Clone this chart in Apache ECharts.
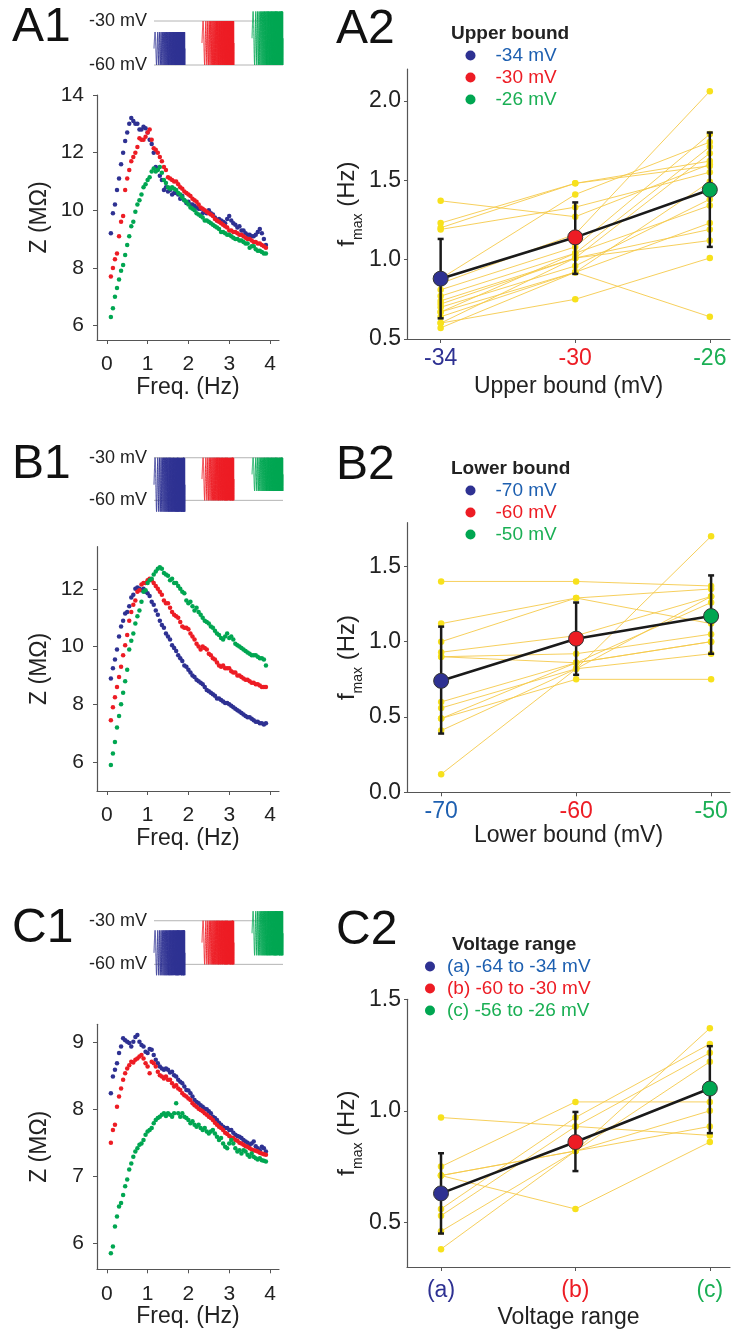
<!DOCTYPE html>
<html>
<head>
<meta charset="utf-8">
<script src="https://cdn.jsdelivr.net/npm/echarts@6/dist/echarts.min.js"></script>
<style>
html, body { margin: 0; padding: 0; background: #fff; }
#fig { width: 732px; height: 1330px; }
</style>
</head>
<body>
<div id="fig"></div>
<script>
// ---- data ----
var freq = [0.1, 0.15, 0.2, 0.25, 0.3, 0.35, 0.4, 0.45, 0.5, 0.55,
    0.6, 0.65, 0.7, 0.75, 0.8, 0.85, 0.9, 0.95, 1.0, 1.05,
    1.1, 1.15, 1.2, 1.25, 1.3, 1.35, 1.4, 1.45, 1.5, 1.55,
    1.6, 1.65, 1.7, 1.75, 1.8, 1.85, 1.9, 1.95, 2.0, 2.05,
    2.1, 2.15, 2.2, 2.25, 2.3, 2.35, 2.4, 2.45, 2.5, 2.55,
    2.6, 2.65, 2.7, 2.75, 2.8, 2.85, 2.9, 2.95, 3.0, 3.05,
    3.1, 3.15, 3.2, 3.25, 3.3, 3.35, 3.4, 3.45, 3.5, 3.55,
    3.6, 3.65, 3.7, 3.75, 3.8, 3.85, 3.9];

// A1: impedance, upper bound -34 / -30 / -26 mV
var zA1Blue = [9.2, 9.9, 10.2, 10.7, 11.1, 11.6, 12.0, 12.4, 12.7, 13.0,
    13.2, 13.1, 13.0, 13.0, 12.8, 12.8, 12.9, 12.85, 12.7, 12.45,
    12.3, 12.0, 11.5, 11.45, 11.2, 11.05, 10.7, 10.8, 10.65, 10.7,
    10.55, 10.6, 10.6, 10.55, 10.4, 10.5, 10.35, 10.25, 10.3, 10.2,
    10.2, 10.15, 10.1, 10.05, 10.05, 9.9, 9.95, 9.9, 10.0, 9.9,
    9.85, 9.75, 9.65, 9.7, 9.65, 9.6, 9.55, 9.7, 9.8, 9.65,
    9.55, 9.5, 9.4, 9.45, 9.3, 9.3, 9.2, 9.15, 9.15, 9.1,
    9.1, 9.15, 9.25, 9.35, 9.2, 9.0, 8.8];
var zA1Red = [7.7, 8.0, 8.3, 8.5, 9.1, 9.6, 9.8, 10.7, 11.1, 11.4,
    11.7, 11.85, 12.0, 12.2, 12.5, 12.45, 12.45, 12.55, 12.7, 12.8,
    12.45, 12.15, 12.1, 12.0, 11.85, 11.7, 11.5, 11.4, 11.15, 11.1,
    11.05, 11.0, 11.0, 10.9, 10.8, 10.75, 10.65, 10.6, 10.55, 10.5,
    10.4, 10.35, 10.3, 10.2, 10.1, 10.05, 10.0, 9.95, 9.9, 9.85,
    9.8, 9.7, 9.65, 9.6, 9.55, 9.5, 9.45, 9.4, 9.3, 9.3,
    9.25, 9.25, 9.2, 9.15, 9.15, 9.1, 9.05, 9.0, 9.0, 8.95,
    8.9, 8.9, 8.85, 8.85, 8.8, 8.75, 8.7];
var zA1Green = [6.3, 6.6, 7.0, 7.3, 7.6, 7.9, 8.1, 8.45, 8.8, 9.1,
    9.45, 9.6, 9.95, 10.2, 10.35, 10.55, 10.8, 10.9, 11.05, 11.15,
    11.35, 11.45, 11.35, 11.4, 11.5, 11.3, 11.05, 10.95, 10.8, 10.75,
    10.8, 10.75, 10.7, 10.6, 10.55, 10.45, 10.35, 10.3, 10.2, 10.1,
    10.05, 10.0, 9.9, 9.85, 9.8, 9.75, 9.65, 9.65, 9.6, 9.55,
    9.5, 9.45, 9.4, 9.35, 9.25, 9.25, 9.2, 9.15, 9.15, 9.1,
    9.05, 9.0, 9.0, 8.95, 8.95, 8.9, 8.85, 8.85, 8.7, 8.75,
    8.75, 8.65, 8.6, 8.6, 8.55, 8.5, 8.5];

// B1: lower bound -70 / -60 / -50 mV
var zB1Blue = [8.9, 9.25, 9.55, 9.9, 10.35, 10.7, 10.9, 11.15, 11.2, 11.4,
    11.7, 11.8, 12.0, 12.05, 12.0, 11.95, 12.0, 11.9, 11.85, 11.75,
    11.55, 11.45, 11.25, 11.1, 10.9, 10.75, 10.65, 10.45, 10.35, 10.25,
    10.05, 9.95, 9.85, 9.7, 9.6, 9.5, 9.35, 9.3, 9.2, 9.1,
    9.0, 8.95, 8.85, 8.8, 8.75, 8.7, 8.6, 8.5, 8.45, 8.4,
    8.35, 8.3, 8.2, 8.2, 8.15, 8.1, 8.05, 8.05, 8.0, 7.95,
    7.9, 7.85, 7.8, 7.75, 7.7, 7.65, 7.6, 7.55, 7.55, 7.5,
    7.45, 7.4, 7.4, 7.35, 7.35, 7.3, 7.35];
var zB1Red = [7.45, 7.9, 8.25, 8.6, 8.95, 9.3, 9.7, 10.05, 10.4, 10.9,
    11.2, 11.45, 11.6, 11.9, 11.95, 12.15, 12.2, 12.2, 12.3, 12.35,
    12.3, 12.2, 12.1, 12.0, 11.9, 11.8, 11.6, 11.5, 11.5, 11.35,
    11.2, 11.1, 11.05, 11.0, 10.85, 10.7, 10.65, 10.65, 10.6, 10.45,
    10.35, 10.25, 10.1, 10.0, 9.9, 10.0, 9.95, 9.9, 9.75, 9.7,
    9.6, 9.55, 9.45, 9.35, 9.3, 9.35, 9.25, 9.25, 9.25, 9.15,
    9.1, 9.1, 9.0, 9.0, 8.95, 8.9, 8.85, 8.85, 8.8, 8.75,
    8.75, 8.7, 8.7, 8.65, 8.6, 8.6, 8.6];
var zB1Green = [5.9, 6.3, 6.7, 7.2, 7.6, 8.0, 8.4, 8.8, 9.2, 9.9,
    10.2, 10.45, 10.8, 11.05, 11.25, 11.55, 11.9, 11.95, 12.2, 12.3,
    12.35, 12.5, 12.6, 12.7, 12.75, 12.7, 12.55, 12.5, 12.45, 12.3,
    12.35, 12.2, 12.2, 12.1, 12.0, 11.9, 11.85, 11.6, 11.5, 11.55,
    11.4, 11.25, 11.35, 11.2, 11.1, 11.0, 10.9, 10.85, 10.8, 10.7,
    10.65, 10.55, 10.45, 10.4, 10.3, 10.25, 10.35, 10.45, 10.3, 10.35,
    10.25, 10.1, 10.05, 10.0, 9.95, 9.9, 9.85, 9.8, 9.75, 9.7,
    9.7, 9.7, 9.65, 9.6, 9.6, 9.55, 9.35];

// C1: voltage range (a) / (b) / (c)
var zC1Blue = [8.24, 8.49, 8.59, 8.69, 8.84, 8.94, 9.06, 9.03, 9.01, 8.99,
    8.94, 9.01, 9.08, 9.11, 9.01, 8.96, 8.94, 8.86, 8.84, 8.9,
    8.89, 8.81, 8.74, 8.69, 8.64, 8.61, 8.59, 8.61, 8.59, 8.55,
    8.56, 8.51, 8.49, 8.44, 8.41, 8.39, 8.34, 8.29, 8.28, 8.24,
    8.19, 8.14, 8.11, 8.09, 8.06, 8.04, 8.01, 8.0, 7.97, 7.94,
    7.89, 7.87, 7.84, 7.8, 7.77, 7.74, 7.72, 7.72, 7.69, 7.69,
    7.65, 7.62, 7.6, 7.59, 7.57, 7.54, 7.52, 7.5, 7.47, 7.49,
    7.52, 7.45, 7.42, 7.39, 7.44, 7.42, 7.37];
var zC1Red = [7.5, 7.69, 7.77, 8.04, 8.19, 8.31, 8.44, 8.54, 8.61, 8.66,
    8.71, 8.7, 8.74, 8.76, 8.79, 8.81, 8.76, 8.69, 8.64, 8.54,
    8.71, 8.69, 8.64, 8.56, 8.51, 8.49, 8.46, 8.49, 8.44, 8.44,
    8.39, 8.34, 8.36, 8.31, 8.29, 8.24, 8.21, 8.19, 8.16, 8.14,
    8.09, 8.06, 8.04, 8.01, 7.99, 7.97, 7.94, 7.92, 7.89, 7.87,
    7.84, 7.8, 7.77, 7.74, 7.72, 7.69, 7.65, 7.63, 7.6, 7.58,
    7.57, 7.54, 7.53, 7.5, 7.49, 7.47, 7.45, 7.44, 7.42, 7.4,
    7.39, 7.38, 7.37, 7.35, 7.34, 7.33, 7.32];
var zC1Green = [5.85, 5.95, 6.25, 6.4, 6.55, 6.6, 6.72, 6.85, 6.95, 7.1,
    7.19, 7.29, 7.37, 7.42, 7.47, 7.49, 7.54, 7.62, 7.67, 7.69,
    7.72, 7.79, 7.84, 7.87, 7.89, 7.92, 7.94, 7.9, 7.94, 7.92,
    7.89, 7.94, 8.09, 7.94, 7.89, 7.94, 7.89, 7.87, 7.84, 7.79,
    7.82, 7.77, 7.74, 7.77, 7.72, 7.69, 7.72, 7.67, 7.64, 7.67,
    7.69, 7.64, 7.59, 7.54, 7.57, 7.49, 7.44, 7.42, 7.49, 7.54,
    7.49, 7.42, 7.37, 7.39, 7.34, 7.39, 7.37, 7.32, 7.29, 7.34,
    7.29, 7.27, 7.25, 7.27, 7.24, 7.23, 7.22];

// stimulus envelopes [t0, t1, low mV, high mV]
var stimA1 = [[0, 0.24, -60, -37.5], [0.372, 0.62, -60, -30], [0.76, 1.0, -60, -23.5]];
var stimB1 = [[0, 0.24, -68, -30], [0.372, 0.62, -60, -30], [0.76, 1.0, -53.4, -30]];
var stimC1 = [[0, 0.24, -67.5, -36.6], [0.372, 0.62, -60, -30], [0.76, 1.0, -53.8, -23.4]];
var refLevels = [-30, -60];

// A2: f_max per cell at upper bound -34 / -30 / -26 mV
var xA2 = [-34, -30, -26];
var cellsA2 = [[1.37, 1.27, 1.60], [1.23, 1.48, 1.59], [1.20, 1.48, 1.62], [1.19, 1.33, 1.55],
    [0.88, 1.41, 1.74], [0.85, 1.16, 2.06], [0.81, 1.08, 1.79], [0.77, 1.04, 1.71],
    [0.74, 1.01, 1.67], [0.70, 0.96, 1.38], [0.67, 1.04, 1.34], [0.64, 0.92, 1.23],
    [0.60, 1.01, 1.19], [0.57, 0.92, 0.64], [0.60, 0.75, 1.01], [0.72, 1.01, 1.12],
    [0.67, 0.92, 1.49]];
var meanA2 = [0.88, 1.14, 1.44];
var loA2 = [0.63, 0.91, 1.08];
var hiA2 = [1.13, 1.36, 1.80];

// B2: lower bound -70 / -60 / -50 mV
var xB2 = [-70, -60, -50];
var cellsB2 = [[1.40, 1.40, 1.37], [1.12, 1.29, 1.35], [1.00, 1.29, 1.12], [0.93, 1.04, 1.30],
    [0.90, 0.92, 1.05], [0.90, 0.86, 1.00], [0.60, 0.86, 1.26], [0.56, 0.82, 1.30],
    [0.49, 0.86, 1.00], [0.41, 0.82, 0.92], [0.49, 0.75, 0.75], [0.12, 0.82, 1.70]];
var meanB2 = [0.74, 1.02, 1.17];
var loB2 = [0.39, 0.78, 0.92];
var hiB2 = [1.10, 1.26, 1.44];

// C2: voltage range (a) / (b) / (c)
var xC2 = [0, 1, 2];
var cellsC2 = [[0.97, 0.93, 0.89], [0.75, 1.04, 1.04], [0.71, 0.56, 0.86], [0.71, 0.82, 0.93],
    [0.56, 0.97, 1.30], [0.53, 0.93, 1.26], [0.46, 0.82, 1.22], [0.38, 0.82, 1.37],
    [0.71, 0.82, 1.00]];
var meanC2 = [0.63, 0.86, 1.10];
var loC2 = [0.45, 0.73, 0.90];
var hiC2 = [0.81, 0.995, 1.29];

var tickA2 = ['-34', '-30', '-26'];
var tickB2 = ['-70', '-60', '-50'];
var tickC2 = ['(a)', '(b)', '(c)'];
var legA2 = ['-34 mV', '-30 mV', '-26 mV'];
var legB2 = ['-70 mV', '-60 mV', '-50 mV'];
var legC2 = ['(a) -64 to -34 mV', '(b) -60 to -30 mV', '(c) -56 to -26 mV'];

// ---- styling ----
var FONT = '"Liberation Sans", Arial, Helvetica, sans-serif';
var dotCols = ['#2e3192', '#ed1c24', '#00a651'];
var textCols = ['#1d5fb0', '#ed1c24', '#1aaf54'];
var tickColsA = ['#2e3192', '#ed1c24', '#1aaf54'];
var tickColsB = ['#1d5fb0', '#ed1c24', '#1aaf54'];
var axisCol = '#555';
var yellowDot = '#f7e11c';
var yellowLine = '#f5c94a';

var myChart = echarts.init(document.getElementById('fig'), null, { renderer: 'canvas' });

var grids = [
    { left: 154, top: 3.4, width: 129, height: 79.2 },      // 0 stim A1
    { left: 154, top: 440.7, width: 129, height: 76.7 },    // 1 stim B1
    { left: 154, top: 903.3, width: 129, height: 78.5 },    // 2 stim C1
    { left: 97, top: 95, width: 182, height: 245 },         // 3 Z A1
    { left: 97, top: 546.7, width: 182, height: 244.3 },    // 4 Z B1
    { left: 97, top: 1024.3, width: 182, height: 245 },     // 5 Z C1
    { left: 407, top: 69, width: 323, height: 270 },        // 6 A2
    { left: 407, top: 522.7, width: 323, height: 269.6 },   // 7 B2
    { left: 407, top: 999.3, width: 323, height: 269 }      // 8 C2
];

var xAxes = [], yAxes = [], series = [];

// stimulus panels
[stimA1, stimB1, stimC1].forEach(function (stim, g) {
    xAxes.push({ gridIndex: g, type: 'value', min: 0, max: 1, show: false });
    yAxes.push({
        gridIndex: g, type: 'value', min: -72, max: -18,
        axisLine: { show: false }, axisTick: { show: false }, splitLine: { show: false },
        axisLabel: {
            customValues: refLevels, margin: 7, fontSize: 18, color: '#222', fontFamily: FONT,
            formatter: function (v) { return v + ' mV'; }
        }
    });
    refLevels.forEach(function (lv) {
        series.push({
            type: 'line', xAxisIndex: g, yAxisIndex: g, silent: true, symbol: 'none', z: 1,
            lineStyle: { color: '#b4b4b4', width: 1 },
            data: [[0, lv], [1, lv]]
        });
    });
    series.push({
        type: 'custom', xAxisIndex: g, yAxisIndex: g, silent: true, z: 2,
        data: stim.map(function (s, i) { return { value: s, itemStyle: { color: dotCols[i] } }; }),
        renderItem: function (params, api) {
            var t0 = api.value(0), t1 = api.value(1), lo = api.value(2), hi = api.value(3);
            var pts = [];
            var n = 1200;
            for (var k = 0; k <= n; k++) {
                var u = k / n;
                var ph = 2 * Math.PI * (6 * u + 36 * u * u);
                var v = (lo + hi) / 2 + (hi - lo) / 2 * Math.sin(ph);
                pts.push(api.coord([t0 + (t1 - t0) * u, v]));
            }
            return {
                type: 'polyline', shape: { points: pts },
                style: { stroke: api.visual('color'), lineWidth: 0.9, fill: null }
            };
        }
    });
});

// impedance panels
var zSets = [[zA1Blue, zA1Red, zA1Green], [zB1Blue, zB1Red, zB1Green], [zC1Blue, zC1Red, zC1Green]];
var zY = [
    { min: 5.5, max: 14, ticks: [6, 8, 10, 12, 14] },
    { min: 5.0, max: 13.46, ticks: [6, 8, 10, 12] },
    { min: 5.61, max: 9.27, ticks: [6, 7, 8, 9] }
];
zSets.forEach(function (set, j) {
    var g = 3 + j;
    xAxes.push({
        gridIndex: g, type: 'value', min: -0.24, max: 4.22,
        name: 'Freq. (Hz)', nameLocation: 'middle', nameGap: 35,
        nameTextStyle: { fontSize: 23, color: '#222', fontFamily: FONT },
        axisLine: { onZero: false, lineStyle: { color: axisCol, width: 1.2 } },
        axisTick: { customValues: [0, 1, 2, 3, 4], length: 4, lineStyle: { color: axisCol } },
        axisLabel: { customValues: [0, 1, 2, 3, 4], margin: 14, fontSize: 21, color: '#222', fontFamily: FONT },
        splitLine: { show: false }
    });
    yAxes.push({
        gridIndex: g, type: 'value', min: zY[j].min, max: zY[j].max,
        name: 'Z (M\u03A9)', nameLocation: 'middle', nameGap: 46,
        nameTextStyle: { fontSize: 23, color: '#222', fontFamily: FONT },
        axisLine: { show: true, onZero: false, lineStyle: { color: axisCol, width: 1.2 } },
        axisTick: { show: true, customValues: zY[j].ticks, length: 4, lineStyle: { color: axisCol } },
        axisLabel: { customValues: zY[j].ticks, margin: 13, fontSize: 21, color: '#222', fontFamily: FONT },
        splitLine: { show: false }
    });
    set.forEach(function (vals, c) {
        series.push({
            type: 'scatter', xAxisIndex: g, yAxisIndex: g, silent: true,
            symbol: 'circle', symbolSize: 4.5, z: 3,
            itemStyle: { color: dotCols[c], opacity: 1 },
            data: freq.map(function (f, i) { return [f, vals[i]]; })
        });
    });
});

// paired f_max panels
var pairs = [
    { xs: xA2, cells: cellsA2, mean: meanA2, lo: loA2, hi: hiA2, ticks: tickA2, leg: legA2, tc: tickColsA,
      xmin: -35, xmax: -25.4, ymin: 0.5, ymax: 2.2, yt: [0.5, 1.0, 1.5, 2.0], xname: 'Upper bound (mV)', gap: 36, lm: 8 },
    { xs: xB2, cells: cellsB2, mean: meanB2, lo: loB2, hi: hiB2, ticks: tickB2, leg: legB2, tc: tickColsB,
      xmin: -72.53, xmax: -48.6, ymin: 0, ymax: 1.79, yt: [0, 0.5, 1.0, 1.5], xname: 'Lower bound (mV)', gap: 31, lm: 8 },
    { xs: xC2, cells: cellsC2, mean: meanC2, lo: loC2, hi: hiC2, ticks: tickC2, leg: legC2, tc: tickColsA,
      xmin: -0.253, xmax: 2.15, ymin: 0.3, ymax: 1.5, yt: [0.5, 1.0, 1.5], xname: 'Voltage range', gap: 39, lm: 12 }
];
pairs.forEach(function (p, j) {
    var g = 6 + j;
    var rich = {};
    p.tc.forEach(function (c, i) { rich['c' + i] = { color: c, fontSize: 23, fontFamily: FONT }; });
    xAxes.push({
        gridIndex: g, type: 'value', min: p.xmin, max: p.xmax,
        name: p.xname, nameLocation: 'middle', nameGap: p.gap,
        nameTextStyle: { fontSize: 23, color: '#222', fontFamily: FONT },
        axisLine: { onZero: false, lineStyle: { color: axisCol, width: 1.2 } },
        axisTick: { customValues: p.xs, length: 4, lineStyle: { color: axisCol } },
        axisLabel: {
            customValues: p.xs, margin: p.lm, rich: rich,
            formatter: function (v) {
                for (var i = 0; i < p.xs.length; i++) {
                    if (Math.abs(p.xs[i] - v) < 1e-6) return '{c' + i + '|' + p.ticks[i] + '}';
                }
                return '';
            }
        },
        splitLine: { show: false }
    });
    yAxes.push({
        gridIndex: g, type: 'value', min: p.ymin, max: p.ymax,
        name: '{f|f}{s|max}{h| (Hz)}', nameLocation: 'middle', nameGap: 40,
        nameTextStyle: {
            color: '#222', fontFamily: FONT,
            rich: {
                f: { fontSize: 24, lineHeight: 36, verticalAlign: 'middle', fontFamily: FONT, color: '#222' },
                s: { fontSize: 14, lineHeight: 36, verticalAlign: 'bottom', fontFamily: FONT, color: '#222' },
                h: { fontSize: 24, lineHeight: 36, verticalAlign: 'middle', fontFamily: FONT, color: '#222' }
            }
        },
        axisLine: { show: true, onZero: false, lineStyle: { color: axisCol, width: 1.2 } },
        axisTick: { show: true, customValues: p.yt, length: 3, lineStyle: { color: axisCol } },
        axisLabel: {
            customValues: p.yt, margin: 6, fontSize: 23, color: '#222', fontFamily: FONT,
            formatter: function (v) { return v.toFixed(1); }
        },
        splitLine: { show: false }
    });
    // individual cells
    p.cells.forEach(function (cell) {
        series.push({
            type: 'line', xAxisIndex: g, yAxisIndex: g, silent: true, z: 2,
            symbol: 'circle', symbolSize: 6.5,
            itemStyle: { color: yellowDot, opacity: 1 },
            lineStyle: { color: yellowLine, width: 0.9 },
            data: cell.map(function (v, i) { return [p.xs[i], v]; })
        });
    });
    // error bars
    series.push({
        type: 'custom', xAxisIndex: g, yAxisIndex: g, silent: true, z: 4,
        data: p.xs.map(function (x, i) { return [x, p.lo[i], p.hi[i]]; }),
        renderItem: function (params, api) {
            var a = api.coord([api.value(0), api.value(1)]);
            var b = api.coord([api.value(0), api.value(2)]);
            var w = 3;
            var st = { stroke: '#1a1a1a', lineWidth: 2.5 };
            return {
                type: 'group', children: [
                    { type: 'line', shape: { x1: a[0], y1: a[1], x2: b[0], y2: b[1] }, style: st },
                    { type: 'line', shape: { x1: a[0] - w, y1: a[1], x2: a[0] + w, y2: a[1] }, style: st },
                    { type: 'line', shape: { x1: b[0] - w, y1: b[1], x2: b[0] + w, y2: b[1] }, style: st }
                ]
            };
        }
    });
    // mean line
    series.push({
        type: 'line', xAxisIndex: g, yAxisIndex: g, silent: true, z: 5,
        symbol: 'none', lineStyle: { color: '#1a1a1a', width: 2.6 },
        data: p.xs.map(function (x, i) { return [x, p.mean[i]]; })
    });
    // mean markers (legend entries)
    p.xs.forEach(function (x, i) {
        series.push({
            type: 'scatter', name: p.leg[i], xAxisIndex: g, yAxisIndex: g, silent: true, z: 6,
            symbol: 'circle', symbolSize: 15,
            itemStyle: { color: dotCols[i], borderColor: '#333', borderWidth: 1, opacity: 1 },
            data: [[x, p.mean[i]]]
        });
    });
});

function legendFor(names, left, top, itemWidth, gap) {
    return {
        orient: 'vertical', left: left, top: top, icon: 'circle', selectedMode: false,
        itemWidth: itemWidth, itemHeight: 10, itemGap: gap,
        itemStyle: { borderWidth: 0, opacity: 1 },
        textStyle: { fontSize: 19, fontFamily: FONT },
        data: names.map(function (n, i) { return { name: n, textStyle: { color: textCols[i] } }; })
    };
}

function panelTitle(txt, left, top) {
    return { text: txt, left: left, top: top, padding: 0,
        textStyle: { fontSize: 48, fontWeight: 'normal', color: '#111', fontFamily: FONT } };
}
function legTitle(txt, left, top) {
    return { text: txt, left: left, top: top, padding: 0,
        textStyle: { fontSize: 19, fontWeight: 'bold', color: '#222', fontFamily: FONT } };
}

var option = {
    animation: false,
    backgroundColor: '#fff',
    title: [
        panelTitle('A1', 12, 4), panelTitle('A2', 336, 6),
        panelTitle('B1', 12, 441), panelTitle('B2', 336, 442),
        panelTitle('C1', 12, 905), panelTitle('C2', 336, 907),
        legTitle('Upper bound', 451, 24), legTitle('Lower bound', 451, 459),
        legTitle('Voltage range', 452, 935)
    ],
    legend: [
        legendFor(legA2, 460.5, 41, 40, 3),
        legendFor(legB2, 460.5, 476, 40, 3),
        legendFor(legC2, 420, 952, 24, 3)
    ],
    grid: grids,
    xAxis: xAxes,
    yAxis: yAxes,
    series: series
};

myChart.setOption(option);
</script>
</body>
</html>
